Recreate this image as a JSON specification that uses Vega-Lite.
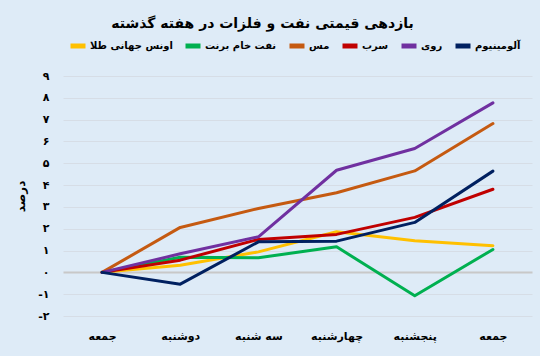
{
  "$schema": "https://vega.github.io/schema/vega-lite/v6.json",
  "width": 469,
  "height": 240,
  "autosize": {"type": "none"},
  "padding": {"left": 63, "top": 76, "right": 8, "bottom": 40},
  "background": "#deebf7",
  "title": {
    "text": "بازدهی قیمتی نفت و فلزات در هفته گذشته",
    "anchor": "middle",
    "dx": -35,
    "fontSize": 14,
    "font": "DejaVu Sans",
    "fontWeight": "bold",
    "color": "#000000",
    "offset": 5
  },
  "data": {
    "values": [
      {"day": "جمعه", "series": "اونس جهانی طلا", "value": 0},
      {"day": "دوشنبه", "series": "اونس جهانی طلا", "value": 0.33},
      {"day": "سه شنبه", "series": "اونس جهانی طلا", "value": 0.94},
      {"day": "چهارشنبه", "series": "اونس جهانی طلا", "value": 1.86},
      {"day": "پنجشنبه", "series": "اونس جهانی طلا", "value": 1.45},
      {"day": "جمعه ", "series": "اونس جهانی طلا", "value": 1.22},
      {"day": "جمعه", "series": "نفت خام برنت", "value": 0},
      {"day": "دوشنبه", "series": "نفت خام برنت", "value": 0.69},
      {"day": "سه شنبه", "series": "نفت خام برنت", "value": 0.67},
      {"day": "چهارشنبه", "series": "نفت خام برنت", "value": 1.17},
      {"day": "پنجشنبه", "series": "نفت خام برنت", "value": -1.07},
      {"day": "جمعه ", "series": "نفت خام برنت", "value": 1.05},
      {"day": "جمعه", "series": "مس", "value": 0},
      {"day": "دوشنبه", "series": "مس", "value": 2.06},
      {"day": "سه شنبه", "series": "مس", "value": 2.93},
      {"day": "چهارشنبه", "series": "مس", "value": 3.65},
      {"day": "پنجشنبه", "series": "مس", "value": 4.65},
      {"day": "جمعه ", "series": "مس", "value": 6.82},
      {"day": "جمعه", "series": "سرب", "value": 0},
      {"day": "دوشنبه", "series": "سرب", "value": 0.56},
      {"day": "سه شنبه", "series": "سرب", "value": 1.51},
      {"day": "چهارشنبه", "series": "سرب", "value": 1.74},
      {"day": "پنجشنبه", "series": "سرب", "value": 2.52},
      {"day": "جمعه ", "series": "سرب", "value": 3.81},
      {"day": "جمعه", "series": "روی", "value": 0},
      {"day": "دوشنبه", "series": "روی", "value": 0.85},
      {"day": "سه شنبه", "series": "روی", "value": 1.63},
      {"day": "چهارشنبه", "series": "روی", "value": 4.68},
      {"day": "پنجشنبه", "series": "روی", "value": 5.68},
      {"day": "جمعه ", "series": "روی", "value": 7.77},
      {"day": "جمعه", "series": "آلومینیوم", "value": 0},
      {"day": "دوشنبه", "series": "آلومینیوم", "value": -0.54},
      {"day": "سه شنبه", "series": "آلومینیوم", "value": 1.40},
      {"day": "چهارشنبه", "series": "آلومینیوم", "value": 1.43},
      {"day": "پنجشنبه", "series": "آلومینیوم", "value": 2.29},
      {"day": "جمعه ", "series": "آلومینیوم", "value": 4.64}
    ]
  },
  "mark": {"type": "line", "strokeWidth": 3, "strokeCap": "round", "strokeJoin": "round"},
  "encoding": {
    "x": {
      "field": "day",
      "type": "nominal",
      "sort": null,
      "scale": {"type": "point", "padding": 0.5},
      "axis": {
        "title": null,
        "labelAngle": 0,
        "domain": false,
        "ticks": false,
        "grid": false,
        "labelPadding": 14,
        "labelFontSize": 11,
        "labelFont": "DejaVu Sans",
        "labelFontWeight": "bold",
        "labelColor": "#000000"
      }
    },
    "y": {
      "field": "value",
      "type": "quantitative",
      "scale": {"domain": [-2, 9], "nice": false, "zero": false},
      "axis": {
        "title": "درصد",
        "titleFont": "DejaVu Sans",
        "titleFontSize": 12,
        "titleFontWeight": "bold",
        "titleColor": "#000000",
        "titlePadding": 10,
        "values": [-2, -1, 0, 1, 2, 3, 4, 5, 6, 7, 8, 9],
        "labelExpr": "['-۲','-۱','۰','۱','۲','۳','۴','۵','۶','۷','۸','۹'][datum.value + 2]",
        "domain": false,
        "ticks": false,
        "labelPadding": 14,
        "labelFontSize": 11,
        "labelFont": "DejaVu Sans",
        "labelFontWeight": "bold",
        "labelColor": "#000000",
        "grid": true,
        "gridColor": {"condition": {"test": "datum.value === 0", "value": "#c8c8c8"}, "value": "#d6dde6"},
        "gridWidth": {"condition": {"test": "datum.value === 0", "value": 2}, "value": 1}
      }
    },
    "color": {
      "field": "series",
      "type": "nominal",
      "scale": {
        "domain": ["اونس جهانی طلا", "نفت خام برنت", "مس", "سرب", "روی", "آلومینیوم"],
        "range": ["#ffc000", "#00b050", "#c55a11", "#c00000", "#7030a0", "#002060"]
      },
      "legend": {
        "title": null,
        "orient": "none",
        "direction": "horizontal",
        "legendX": 5,
        "legendY": -40,
        "symbolType": "stroke",
        "symbolStrokeWidth": 5,
        "symbolSize": 225,
        "labelFontSize": 10,
        "labelFont": "DejaVu Sans",
        "labelFontWeight": "bold",
        "labelColor": "#000000",
        "columnPadding": 2,
        "labelOffset": 2
      }
    }
  },
  "config": {"view": {"stroke": null}}
}
